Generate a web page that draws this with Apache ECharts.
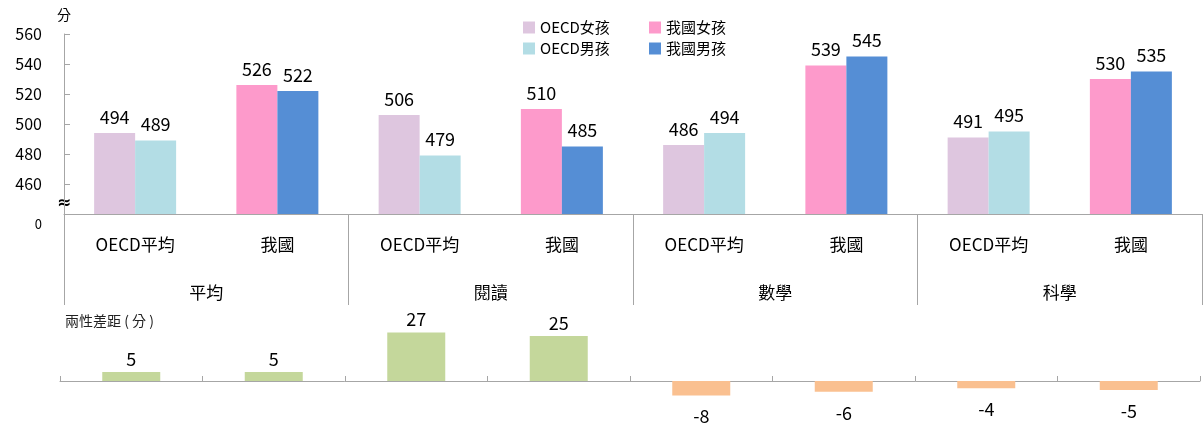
<!DOCTYPE html>
<html><head><meta charset="utf-8">
<script src="https://cdn.jsdelivr.net/npm/echarts@6/dist/echarts.min.js"></script>
<style>html,body{margin:0;padding:0;background:#fff}#c{width:1204px;height:425px}</style>
</head><body><div id="c"></div>
<script>
// ---- data ----
const categories = ['OECD平均','我國','OECD平均','我國','OECD平均','我國','OECD平均','我國'];
const groups = ['平均','閱讀','數學','科學'];
const oecdGirls = [494,'-',506,'-',486,'-',491,'-'];
const oecdBoys  = [489,'-',479,'-',494,'-',495,'-'];
const twGirls   = ['-',526,'-',510,'-',539,'-',530];
const twBoys    = ['-',522,'-',485,'-',545,'-',535];
const genderGap = [5,5,27,25,-8,-6,-4,-5];
const yMin = 440, yMax = 560, yStep = 20;
const yBreakLabel = '0';
const seriesNames = ['OECD女孩','OECD男孩','我國女孩','我國男孩'];
const gapTitle = '兩性差距 ( 分 )';
const yUnit = '分';

// ---- styles ----
const FONT = '"Noto Sans CJK TC", "Noto Sans", sans-serif';
const colors = ['#DEC6DF','#B3DDE5','#FD9ACB','#558ED5'];
const posColor = '#C4D79B', negColor = '#FAC090';
const axisGray = '#A6A6A6';

const chart = echarts.init(document.getElementById('c'), null, {renderer:'canvas'});

function barSeries(name, data, xi, color){
  return {
    name, type:'bar', data, xAxisIndex:xi, yAxisIndex:0,
    barWidth:41, barGap:'0%', itemStyle:{color},
    label:{show:true, position:'top', distance:7, color:'#000', fontSize:18, fontFamily:FONT},
    emphasis:{disabled:true}
  };
}

const option = {
  animation:false,
  textStyle:{fontFamily:FONT},
  legend:[
    {data:seriesNames.slice(0,2), orient:'vertical', left:518, top:15, itemWidth:12, itemHeight:12, itemGap:6,
     icon:'rect', textStyle:{fontSize:15, color:'#000', fontFamily:FONT}, selectedMode:false},
    {data:seriesNames.slice(2,4), orient:'vertical', left:644, top:15, itemWidth:12, itemHeight:12, itemGap:6,
     icon:'rect', textStyle:{fontSize:15, color:'#000', fontFamily:FONT}, selectedMode:false}
  ],
  grid:[
    {left:64, right:2, top:34, height:180},
    {left:60, right:4, top:327, height:81}
  ],
  xAxis:[
    {type:'category', gridIndex:0, data:categories, position:'bottom',
     axisLine:{lineStyle:{color:axisGray}}, axisTick:{show:false},
     axisLabel:{margin:22, fontSize:17, color:'#000', fontFamily:FONT}},
    {type:'category', gridIndex:0, data:groups, position:'bottom',
     axisLine:{show:false}, axisTick:{show:true, length:91, lineStyle:{color:axisGray}},
     axisLabel:{margin:70, fontSize:17, color:'#000', fontFamily:FONT}},
    {type:'category', gridIndex:0, data:categories, show:false},
    {type:'category', gridIndex:1, data:categories,
     axisLine:{onZero:true, lineStyle:{color:axisGray}},
     axisTick:{show:true, inside:true, length:5, lineStyle:{color:axisGray}},
     axisLabel:{show:false}}
  ],
  yAxis:[
    {type:'value', gridIndex:0, min:yMin, max:yMax, interval:yStep,
     axisLine:{show:true, lineStyle:{color:axisGray}},
     axisTick:{show:true, inside:true, length:6, lineStyle:{color:axisGray}},
     splitLine:{show:false},
     axisLabel:{margin:22, fontSize:16, color:'#000', fontFamily:FONT,
       formatter:v => v === yMin ? '{z|' + yBreakLabel + '}' : String(v),
       rich:{z:{fontSize:13, color:'#000', padding:[20,0,0,0], fontFamily:FONT}}}},
    {type:'value', gridIndex:1, min:-15, max:30, show:false, splitLine:{show:false}}
  ],
  series:[
    barSeries(seriesNames[0], oecdGirls, 0, colors[0]),
    barSeries(seriesNames[1], oecdBoys, 0, colors[1]),
    barSeries(seriesNames[2], twGirls, 2, colors[2]),
    barSeries(seriesNames[3], twBoys, 2, colors[3]),
    {type:'bar', name:'gap', xAxisIndex:3, yAxisIndex:1, barWidth:58,
     data:genderGap.map(v => ({value:v, itemStyle:{color: v >= 0 ? posColor : negColor},
       label:{position: v >= 0 ? 'top' : 'bottom', distance: v >= 0 ? 4 : 12}})),
     label:{show:true, color:'#000', fontSize:18, fontFamily:FONT},
     emphasis:{disabled:true}}
  ]
};
chart.setOption(option);

const brk = chart.convertToPixel({yAxisIndex:0}, yMin + 6.5);
chart.setOption({
  graphic:[
    {type:'text', left:57, top:brk - 9, style:{text:'≈', fontSize:17, fontWeight:'bold', fill:'#000', fontFamily:'DejaVu Sans'}},
    {type:'text', left:57, top:8, style:{text:yUnit, fontSize:14, fill:'#000', fontFamily:FONT}},
    {type:'text', left:65, top:314, style:{text:gapTitle, fontSize:14, fill:'#222', fontFamily:FONT}}
  ]
});
</script>
</body></html>
